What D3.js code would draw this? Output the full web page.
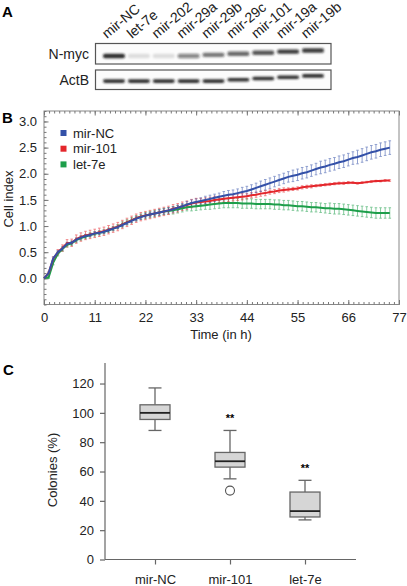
<!DOCTYPE html>
<html><head><meta charset="utf-8">
<script src="https://cdn.jsdelivr.net/npm/d3@7"></script>
<style>html,body{margin:0;padding:0;background:#fff;}svg{display:block;font-family:"Liberation Sans",Arial,Helvetica,sans-serif;}</style>
</head><body>
<svg id="chart" width="407" height="586"></svg>
<script>
// ---------- Panel A data ----------
const lanes = ["mir-NC","let-7e","mir-202","mir-29a","mir-29b","mir-29c","mir-101","mir-19a","mir-19b"];
const nmycIntensity = [0.9,0.12,0.12,0.5,0.6,0.66,0.74,0.85,0.85];
const actbIntensity = [0.9,0.9,0.9,0.9,0.9,0.9,0.9,0.9,0.9];
const blotRows = ["N-myc","ActB"];

// ---------- Panel B data ----------
const timeH = [0,1,2,3,4,5,6,7,8,9,10,11,12,13,14,15,16,17,18,19,20,21,22,23,24,25,26,27,28,29,30,31,32,33,34,35,36,37,38,39,40,41,42,43,44,45,46,47,48,49,50,51,52,53,54,55,56,57,58,59,60,61,62,63,64,65,66,67,68,69,70,71,72,73,74,75];
const mirNC = [0,0.10,0.38,0.50,0.57,0.66,0.68,0.74,0.78,0.81,0.83,0.86,0.87,0.89,0.92,0.95,0.98,1.02,1.06,1.10,1.14,1.17,1.20,1.22,1.24,1.26,1.28,1.30,1.32,1.35,1.38,1.41,1.44,1.46,1.48,1.50,1.52,1.54,1.56,1.58,1.60,1.61,1.63,1.65,1.67,1.70,1.73,1.76,1.79,1.82,1.85,1.88,1.91,1.94,1.96,1.98,2.01,2.03,2.06,2.09,2.12,2.14,2.17,2.19,2.22,2.24,2.27,2.30,2.32,2.35,2.38,2.41,2.43,2.46,2.48,2.50];
const mirNCsd = [0,0.02,0.03,0.03,0.03,0.03,0.03,0.03,0.03,0.03,0.03,0.03,0.03,0.03,0.03,0.03,0.03,0.03,0.03,0.03,0.04,0.04,0.04,0.04,0.04,0.05,0.05,0.05,0.05,0.05,0.05,0.06,0.06,0.06,0.06,0.07,0.07,0.07,0.07,0.08,0.08,0.08,0.08,0.09,0.09,0.09,0.09,0.10,0.10,0.10,0.10,0.10,0.10,0.10,0.11,0.11,0.11,0.11,0.11,0.11,0.12,0.12,0.12,0.12,0.12,0.12,0.12,0.12,0.13,0.13,0.13,0.13,0.13,0.13,0.13,0.13];
const mir101 = [0,0.10,0.37,0.50,0.58,0.67,0.68,0.75,0.79,0.82,0.84,0.86,0.88,0.90,0.93,0.96,0.99,1.03,1.07,1.11,1.15,1.18,1.20,1.22,1.24,1.26,1.28,1.30,1.33,1.35,1.38,1.40,1.43,1.45,1.46,1.47,1.48,1.50,1.51,1.52,1.53,1.54,1.55,1.56,1.57,1.59,1.60,1.62,1.63,1.65,1.66,1.68,1.69,1.70,1.71,1.72,1.74,1.75,1.76,1.77,1.78,1.79,1.80,1.81,1.82,1.82,1.83,1.83,1.82,1.83,1.84,1.85,1.86,1.86,1.87,1.87];
const mir101sd = [0,0.02,0.04,0.05,0.06,0.07,0.07,0.08,0.08,0.08,0.08,0.08,0.08,0.08,0.08,0.08,0.08,0.08,0.08,0.08,0.08,0.08,0.08,0.08,0.08,0.08,0.08,0.08,0.08,0.08,0.08,0.08,0.08,0.08,0.07,0.07,0.07,0.07,0.06,0.06,0.06,0.06,0.06,0.06,0.05,0.05,0.05,0.05,0.05,0.04,0.04,0.04,0.04,0.03,0.03,0.03,0.03,0.03,0.03,0.02,0.02,0.02,0.02,0.02,0.02,0.02,0.02,0.015,0.015,0.015,0.015,0.015,0.015,0.015,0.015,0.015];
const let7e = [0,0.02,0.30,0.47,0.56,0.64,0.67,0.73,0.77,0.80,0.83,0.85,0.87,0.89,0.92,0.95,0.99,1.03,1.07,1.11,1.15,1.18,1.20,1.22,1.24,1.26,1.28,1.29,1.30,1.32,1.34,1.36,1.37,1.38,1.39,1.40,1.41,1.42,1.43,1.44,1.44,1.44,1.44,1.43,1.43,1.43,1.42,1.42,1.42,1.42,1.41,1.41,1.40,1.40,1.39,1.38,1.38,1.37,1.36,1.36,1.35,1.34,1.34,1.33,1.33,1.32,1.31,1.30,1.29,1.28,1.27,1.26,1.25,1.25,1.25,1.25];
const let7esd = [0,0.02,0.04,0.04,0.04,0.04,0.04,0.04,0.04,0.04,0.04,0.04,0.04,0.04,0.04,0.04,0.04,0.05,0.05,0.05,0.05,0.05,0.06,0.06,0.06,0.06,0.06,0.06,0.07,0.07,0.07,0.07,0.08,0.08,0.08,0.08,0.09,0.09,0.09,0.09,0.09,0.09,0.09,0.09,0.09,0.09,0.09,0.09,0.09,0.09,0.09,0.09,0.09,0.09,0.09,0.09,0.09,0.09,0.09,0.09,0.09,0.09,0.10,0.10,0.10,0.10,0.10,0.10,0.10,0.10,0.10,0.10,0.10,0.10,0.10,0.10];
const seriesNames = ["mir-NC","mir-101","let-7e"];
const seriesColors = ["#3451a8","#e4262b","#1d9e4a"];
const xTicksB = [0,11,22,33,44,55,66,77];
const yTicksB = [0,0.5,1,1.5,2,2.5,3];

// ---------- Panel C data ----------
const boxCats = ["mir-NC","mir-101","let-7e"];
const boxMin = [88,55,27];
const boxQ1 = [95.5,63,29];
const boxMedian = [100,67,33];
const boxQ3 = [105.5,73,46];
const boxMax = [117,88,54];
const boxOutliers = [[],[47],[]];
const boxSig = ["","**","**"];
const yTicksC = [0,20,40,60,80,100,120];

const svg = d3.select("#chart");
const defs = svg.append("defs");
defs.append("filter").attr("id","blur").attr("x","-50%").attr("y","-200%").attr("width","200%").attr("height","500%")
  .append("feGaussianBlur").attr("stdDeviation",0.9);

// ================= Panel A =================
svg.append("text").attr("x",2).attr("y",17).attr("font-size",15).attr("font-weight","bold").text("A");
const laneX = d3.scalePoint().domain(lanes).range([114,313]);
const rowBox = [{y:43.5,h:20.5},{y:70,h:19.5}];
svg.selectAll(".laneLbl").data(lanes).join("text")
  .attr("transform",d=>`translate(${laneX(d)-7},39) rotate(-40)`)
  .attr("font-size",14).attr("fill","#222").text(d=>d);
blotRows.forEach((r,i)=>{
  const b = rowBox[i];
  svg.append("rect").attr("x",95.5).attr("y",b.y).attr("width",235.5).attr("height",b.h)
    .attr("fill","#fcfcfc").attr("stroke","#555").attr("stroke-width",1.2);
  svg.append("text").attr("x",89).attr("y",b.y+b.h/2+5).attr("text-anchor","end")
    .attr("font-size",14).attr("fill","#222").text(r);
  const inten = i===0 ? nmycIntensity : actbIntensity;
  const g = svg.append("g").attr("filter","url(#blur)");
  lanes.forEach((l,j)=>{
    const tilt = i===0 ? (j>=3 ? -(j-3)*1.1 : 0) : (j>=4 ? -(j-4)*1.3 : 0);
    const cy = (i===0 ? 56 : 81.5) + tilt;
    g.append("rect").attr("x",laneX(l)-11).attr("y",cy-2.2).attr("width",22).attr("height",i===0?4.4:3.6)
      .attr("rx",2).attr("fill","#1a1a1a").attr("opacity",inten[j]);
  });
});

// ================= Panel B =================
svg.append("text").attr("x",2).attr("y",123).attr("font-size",15).attr("font-weight","bold").text("B");
const xB = d3.scaleLinear().domain([0,77]).range([44,399]);
const yB = d3.scaleLinear().domain([-0.5,3.2]).range([304.5,111]);
const gB = svg.append("g");
gB.append("rect").attr("x",44).attr("y",111).attr("width",355).attr("height",193.5)
  .attr("fill","none").attr("stroke","#888").attr("stroke-width",1);
// minor ticks
const minorX = d3.range(0,77.01,1.1);
const minorY = d3.range(-0.5,3.21,0.1);
gB.append("g").attr("transform","translate(0,304.5)").call(d3.axisBottom(xB).tickValues(minorX).tickSize(-2.5).tickFormat(""))
  .call(g=>{g.select(".domain").remove(); g.selectAll("line").attr("stroke","#777");});
gB.append("g").attr("transform","translate(0,111)").call(d3.axisTop(xB).tickValues(minorX).tickSize(-2.5).tickFormat(""))
  .call(g=>{g.select(".domain").remove(); g.selectAll("line").attr("stroke","#777");});
gB.append("g").attr("transform","translate(44,0)").call(d3.axisLeft(yB).tickValues(minorY).tickSize(-2.5).tickFormat(""))
  .call(g=>{g.select(".domain").remove(); g.selectAll("line").attr("stroke","#777");});
// major ticks & labels
gB.append("g").attr("transform","translate(0,304.5)").call(d3.axisBottom(xB).tickValues(xTicksB).tickSize(-4.5).tickPadding(8))
  .call(g=>{g.select(".domain").remove(); g.selectAll("line").attr("stroke","#777");
    g.selectAll("text").attr("font-size",13).attr("fill","#222").attr("font-family","Liberation Sans, Arial, sans-serif");});
gB.append("g").attr("transform","translate(0,111)").call(d3.axisTop(xB).tickValues(xTicksB).tickSize(-4.5).tickFormat(""))
  .call(g=>{g.select(".domain").remove(); g.selectAll("line").attr("stroke","#777");});
gB.append("g").attr("transform","translate(44,0)").call(d3.axisLeft(yB).tickValues(yTicksB).tickSize(-4.5).tickPadding(7))
  .call(g=>{g.select(".domain").remove(); g.selectAll("line").attr("stroke","#777");
    g.selectAll("text").text(d=>d3.format(".1f")(d)).attr("font-size",13).attr("fill","#222").attr("font-family","Liberation Sans, Arial, sans-serif");});
gB.append("text").attr("x",221).attr("y",339).attr("text-anchor","middle").attr("font-size",13).attr("fill","#222").text("Time (in h)");
gB.append("text").attr("transform","translate(13,199) rotate(-90)").attr("text-anchor","middle").attr("font-size",13).attr("fill","#222").text("Cell index");

const seriesVals = [mirNC, mir101, let7e];
const seriesSd = [mirNCsd, mir101sd, let7esd];
const line = d3.line().x((d)=>xB(d[0])).y(d=>yB(d[1]));
[2,1,0].forEach(si=>{
  const col = seriesColors[si];
  const pts = timeH.map((t,k)=>[t,seriesVals[si][k],seriesSd[si][k]]);
  const eg = gB.append("g").attr("stroke",col).attr("stroke-width",0.9).attr("opacity",0.6);
  pts.forEach(p=>{
    if(p[2]<=0) return;
    eg.append("line").attr("x1",xB(p[0])).attr("x2",xB(p[0])).attr("y1",yB(p[1]-p[2])).attr("y2",yB(p[1]+p[2]));
    eg.append("line").attr("x1",xB(p[0])-1.3).attr("x2",xB(p[0])+1.3).attr("y1",yB(p[1]-p[2])).attr("y2",yB(p[1]-p[2]));
    eg.append("line").attr("x1",xB(p[0])-1.3).attr("x2",xB(p[0])+1.3).attr("y1",yB(p[1]+p[2])).attr("y2",yB(p[1]+p[2]));
  });
});
[2,1,0].forEach(si=>{
  const pts = timeH.map((t,k)=>[t,seriesVals[si][k]]);
  gB.append("path").datum(pts).attr("d",line).attr("fill","none").attr("stroke",seriesColors[si]).attr("stroke-width",2);
});
// legend
seriesNames.forEach((n,i)=>{
  const cy = 133 + i*15.7;
  gB.append("rect").attr("x",60.5).attr("y",cy-3).attr("width",6).attr("height",6).attr("fill",seriesColors[i]);
  gB.append("text").attr("x",73).attr("y",cy+4.5).attr("font-size",13).attr("fill","#222").text(n);
});

// ================= Panel C =================
svg.append("text").attr("x",3).attr("y",375).attr("font-size",15).attr("font-weight","bold").text("C");
const yC = d3.scaleLinear().domain([0,134]).range([559.5,363]);
const xC = d3.scalePoint().domain(boxCats).range([155,305]);
const gC = svg.append("g");
gC.append("line").attr("x1",105).attr("x2",105).attr("y1",363).attr("y2",559.5).attr("stroke","#666").attr("stroke-width",1.2);
gC.append("line").attr("x1",105).attr("x2",356).attr("y1",559.5).attr("y2",559.5).attr("stroke","#666").attr("stroke-width",1.2);
gC.append("g").attr("transform","translate(105,0)").call(d3.axisLeft(yC).tickValues(yTicksC).tickSize(5).tickPadding(6))
  .call(g=>{g.select(".domain").remove(); g.selectAll("line").attr("stroke","#666").attr("stroke-width",1.2);
    g.selectAll("text").attr("font-size",13).attr("fill","#222").attr("font-family","Liberation Sans, Arial, sans-serif");});
gC.append("g").attr("transform","translate(0,559.5)").call(d3.axisBottom(xC).tickSize(5).tickPadding(10))
  .call(g=>{g.select(".domain").remove(); g.selectAll("line").attr("stroke","#666").attr("stroke-width",1.2);
    g.selectAll("text").attr("font-size",13).attr("fill","#222").attr("font-family","Liberation Sans, Arial, sans-serif");});
gC.append("text").attr("transform","translate(57,470) rotate(-90)").attr("text-anchor","middle").attr("font-size",13).attr("fill","#222").text("Colonies (%)");
boxCats.forEach((c,i)=>{
  const cx = xC(c), bw = 30, cw = 13;
  gC.append("line").attr("x1",cx).attr("x2",cx).attr("y1",yC(boxMax[i])).attr("y2",yC(boxQ3[i])).attr("stroke","#666").attr("stroke-width",1.3);
  gC.append("line").attr("x1",cx).attr("x2",cx).attr("y1",yC(boxQ1[i])).attr("y2",yC(boxMin[i])).attr("stroke","#666").attr("stroke-width",1.3);
  gC.append("line").attr("x1",cx-cw/2).attr("x2",cx+cw/2).attr("y1",yC(boxMax[i])).attr("y2",yC(boxMax[i])).attr("stroke","#666").attr("stroke-width",1.3);
  gC.append("line").attr("x1",cx-cw/2).attr("x2",cx+cw/2).attr("y1",yC(boxMin[i])).attr("y2",yC(boxMin[i])).attr("stroke","#666").attr("stroke-width",1.3);
  gC.append("rect").attr("x",cx-bw/2).attr("y",yC(boxQ3[i])).attr("width",bw).attr("height",yC(boxQ1[i])-yC(boxQ3[i]))
    .attr("fill","#d6d6d6").attr("stroke","#666").attr("stroke-width",1.3);
  gC.append("line").attr("x1",cx-bw/2).attr("x2",cx+bw/2).attr("y1",yC(boxMedian[i])).attr("y2",yC(boxMedian[i])).attr("stroke","#222").attr("stroke-width",1.8);
  boxOutliers[i].forEach(o=>{
    gC.append("circle").attr("cx",cx).attr("cy",yC(o)).attr("r",4.5).attr("fill","#fff").attr("stroke","#555").attr("stroke-width",1.1);
  });
  if(boxSig[i]) gC.append("text").attr("x",cx).attr("y",yC(boxMax[i])-8).attr("text-anchor","middle").attr("font-size",11).attr("font-weight","bold").attr("fill","#000").text(boxSig[i]);
});
</script>
</body></html>
